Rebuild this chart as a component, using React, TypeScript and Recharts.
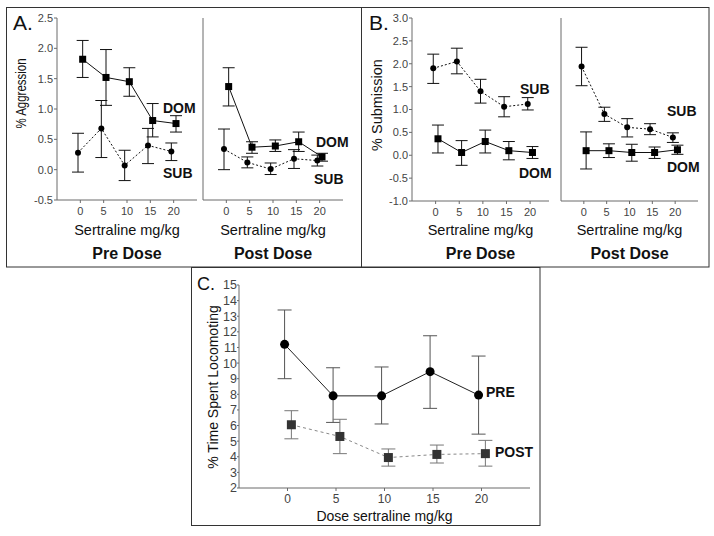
import React from "react";
import { ComposedChart, Scatter, XAxis, YAxis, ErrorBar, Label } from "recharts";

// ---- data ----
const DOSES = [0, 5, 10, 15, 20];
const DOSE_TICKS = [0, 5, 10, 15, 20];

// A. % Aggression: means and [lower, upper] error bounds
const aggPreDom = [1.82, 1.52, 1.45, 0.81, 0.76];
const aggPreDomErr = [[1.52, 2.13], [1.06, 1.98], [1.21, 1.68], [0.54, 1.09], [0.62, 0.89]];
const aggPreSub = [0.28, 0.68, 0.07, 0.4, 0.3];
const aggPreSubErr = [[-0.04, 0.6], [0.2, 1.14], [-0.18, 0.32], [0.1, 0.68], [0.15, 0.44]];
const aggPostDom = [1.37, 0.37, 0.39, 0.46, 0.21];
const aggPostDomErr = [[1.05, 1.68], [0.27, 0.46], [0.3, 0.49], [0.3, 0.62], [0.14, 0.27]];
const aggPostSub = [0.34, 0.12, 0.01, 0.18, 0.15];
const aggPostSubErr = [[0.0, 0.67], [0.03, 0.21], [-0.08, 0.11], [0.02, 0.33], [0.06, 0.24]];

// B. % Submission
const subPreSub = [1.9, 2.05, 1.4, 1.06, 1.12];
const subPreSubErr = [[1.57, 2.21], [1.78, 2.34], [1.14, 1.66], [0.84, 1.28], [0.99, 1.26]];
const subPreDom = [0.36, 0.06, 0.3, 0.1, 0.06];
const subPreDomErr = [[0.05, 0.66], [-0.22, 0.32], [0.05, 0.55], [-0.1, 0.3], [-0.07, 0.19]];
const subPostSub = [1.94, 0.9, 0.61, 0.57, 0.39];
const subPostSubErr = [[1.52, 2.36], [0.74, 1.05], [0.4, 0.8], [0.45, 0.69], [0.28, 0.49]];
const subPostDom = [0.1, 0.1, 0.06, 0.06, 0.12];
const subPostDomErr = [[-0.3, 0.51], [-0.05, 0.25], [-0.13, 0.24], [-0.07, 0.18], [0.02, 0.22]];

// C. % Time spent locomoting
const locoPre = [11.2, 7.9, 7.9, 9.45, 7.95];
const locoPreErr = [[9.0, 13.4], [6.2, 9.7], [6.1, 9.75], [7.1, 11.75], [5.45, 10.45]];
const locoPost = [6.05, 5.3, 3.95, 4.15, 4.2];
const locoPostErr = [[5.15, 6.95], [4.2, 6.4], [3.4, 4.5], [3.6, 4.75], [3.4, 5.05]];

const AGG_TICKS = [-0.5, 0, 0.5, 1, 1.5, 2, 2.5];
const SUBM_TICKS = [-1, -0.5, 0, 0.5, 1, 1.5, 2, 2.5, 3];
const LOCO_TICKS = [2, 3, 4, 5, 6, 7, 8, 9, 10, 11, 12, 13, 14, 15];

// small horizontal offsets so the two groups don't overlap
const SUB_SHIFT = -0.5;
const DOM_SHIFT = 0.5;

type Pt = { x: number; y: number; err: number[] };

const toPoints = (means: number[], bounds: number[][], shift: number): Pt[] =>
  DOSES.map((d, i) => ({
    x: d + shift,
    y: means[i],
    err: [means[i] - bounds[i][0], bounds[i][1] - means[i]],
  }));

const FONT = "'Liberation Sans', Arial, Helvetica, sans-serif";
const AXIS = "#6b6b6b";
const TICK_TXT = "#444";

const YW = 50;
const MT = 6;
const MR = 6;

type Series = {
  data: Pt[];
  kind: "square" | "circle";
  size: number;
  fill: string;
  stroke: string;
  dash?: string;
  errColor: string;
  cap: number;
};

type Title = { text: string; offset: number; size: number; bold?: boolean };

const mkShape = (kind: "square" | "circle", size: number, fill: string) =>
  (p: any) =>
    kind === "square" ? (
      <rect x={p.cx - size / 2} y={p.cy - size / 2} width={size} height={size} fill={fill} />
    ) : (
      <circle cx={p.cx} cy={p.cy} r={size / 2} fill={fill} />
    );

function SubPlot(props: {
  axisX: number;
  plotTop: number;
  plotW: number;
  plotH: number;
  xh: number;
  xDomain: number[];
  yDomain: number[];
  yTicks: number[];
  yFmt: (v: number) => string;
  yLabels: boolean;
  tickFont: number;
  yTickFont?: number;
  xTickMargin: number;
  yTickSize?: number;
  yTickMargin?: number;
  series: Series[];
  titles: Title[];
}) {
  const { axisX, plotTop, plotW, plotH, xh } = props;
  const width = YW + plotW + MR;
  const height = MT + plotH + xh;
  return (
    <div style={{ position: "absolute", left: axisX - YW, top: plotTop - MT }}>
      <ComposedChart width={width} height={height} margin={{ top: MT, right: MR, left: 0, bottom: 0 }}>
        <XAxis
          type="number"
          dataKey="x"
          domain={props.xDomain}
          ticks={DOSE_TICKS}
          interval={0}
          allowDataOverflow
          height={xh}
          stroke={AXIS}
          tickSize={3}
          tickMargin={props.xTickMargin}
          tick={{ fill: TICK_TXT, fontSize: props.tickFont }}
        >
          {props.titles.map((t) => (
            <Label
              key={t.text}
              value={t.text}
              position="insideBottom"
              offset={t.offset}
              fontSize={t.size}
              fontWeight={t.bold ? 700 : 400}
              fill="#111"
            />
          ))}
        </XAxis>
        <YAxis
          type="number"
          dataKey="y"
          domain={props.yDomain}
          ticks={props.yTicks}
          interval={0}
          allowDataOverflow
          width={YW}
          stroke={AXIS}
          tickSize={props.yTickSize ?? 3}
          tickMargin={props.yTickMargin ?? 1}
          tickFormatter={props.yFmt}
          tick={props.yLabels ? { fill: TICK_TXT, fontSize: props.yTickFont ?? props.tickFont } : false}
        />
        {props.series.map((s, i) => (
          <Scatter
            key={i}
            data={s.data}
            isAnimationActive={false}
            shape={mkShape(s.kind, s.size, s.fill)}
            line={{ stroke: s.stroke, strokeWidth: 1, strokeDasharray: s.dash }}
            lineType="joint"
          >
            <ErrorBar dataKey="err" direction="y" width={s.cap} stroke={s.errColor} strokeWidth={1} />
          </Scatter>
        ))}
      </ComposedChart>
    </div>
  );
}

const domSeries = (pts: Pt[]): Series => ({
  data: pts, kind: "square", size: 7, fill: "#000", stroke: "#111", errColor: "#111", cap: 6,
});
const subSeries = (pts: Pt[]): Series => ({
  data: pts, kind: "circle", size: 6, fill: "#000", stroke: "#111", dash: "2 2", errColor: "#111", cap: 6,
});

const fmt1 = (v: number) => v.toFixed(1);
const fmt0 = (v: number) => String(v);

const preTitles = (bottomGap: number): Title[] => [
  { text: "Sertraline mg/kg", offset: bottomGap + 35, size: 14.5 },
  { text: "Pre Dose", offset: bottomGap + 11, size: 16, bold: true },
];
const postTitles = (bottomGap: number): Title[] => [
  { text: "Sertraline mg/kg", offset: bottomGap + 35, size: 14.5 },
  { text: "Post Dose", offset: bottomGap + 11, size: 16, bold: true },
];

const bold = { fontWeight: 700, fontSize: 14, fill: "#111" } as const;

export default function App() {
  return (
    <div
      style={{
        position: "absolute",
        left: 0,
        top: 0,
        width: 714,
        height: 536,
        background: "#fff",
        fontFamily: FONT,
        overflow: "hidden",
      }}
    >
      {/* A. Aggression */}
      <SubPlot
        axisX={57} plotTop={18} plotW={140} plotH={182} xh={70}
        xDomain={[-5, 25]} yDomain={[-0.5, 2.5]} yTicks={AGG_TICKS} yFmt={fmt1} yLabels
        tickFont={11} xTickMargin={4}
        series={[domSeries(toPoints(aggPreDom, aggPreDomErr, DOM_SHIFT)), subSeries(toPoints(aggPreSub, aggPreSubErr, SUB_SHIFT))]}
        titles={preTitles(0)}
      />
      <SubPlot
        axisX={203} plotTop={18} plotW={140} plotH={182} xh={70}
        xDomain={[-5, 25]} yDomain={[-0.5, 2.5]} yTicks={AGG_TICKS} yFmt={fmt1} yLabels={false}
        tickFont={11} xTickMargin={4}
        series={[domSeries(toPoints(aggPostDom, aggPostDomErr, DOM_SHIFT)), subSeries(toPoints(aggPostSub, aggPostSubErr, SUB_SHIFT))]}
        titles={postTitles(0)}
      />
      {/* B. Submission */}
      <SubPlot
        axisX={412} plotTop={18} plotW={137} plotH={183} xh={70}
        xDomain={[-5, 24]} yDomain={[-1, 3]} yTicks={SUBM_TICKS} yFmt={fmt1} yLabels
        tickFont={11} xTickMargin={4}
        series={[domSeries(toPoints(subPreDom, subPreDomErr, DOM_SHIFT)), subSeries(toPoints(subPreSub, subPreSubErr, SUB_SHIFT))]}
        titles={preTitles(1)}
      />
      <SubPlot
        axisX={561} plotTop={18} plotW={137} plotH={183} xh={70}
        xDomain={[-5, 25]} yDomain={[-1, 3]} yTicks={SUBM_TICKS} yFmt={fmt1} yLabels={false}
        tickFont={11} xTickMargin={4}
        series={[domSeries(toPoints(subPostDom, subPostDomErr, DOM_SHIFT)), subSeries(toPoints(subPostSub, subPostSubErr, SUB_SHIFT))]}
        titles={postTitles(1)}
      />
      {/* C. Locomotion */}
      <SubPlot
        axisX={239} plotTop={285} plotW={291} plotH={203} xh={40}
        xDomain={[-5, 25]} yDomain={[2, 15]} yTicks={LOCO_TICKS} yFmt={fmt0} yLabels
        tickFont={12} yTickFont={12.5} xTickMargin={3} yTickSize={2} yTickMargin={0}
        series={[
          { data: toPoints(locoPre, locoPreErr, -0.3), kind: "circle", size: 9, fill: "#000", stroke: "#222", errColor: "#555", cap: 7 },
          { data: toPoints(locoPost, locoPostErr, 0.4), kind: "square", size: 9, fill: "#333", stroke: "#888", dash: "3 3", errColor: "#777", cap: 7 },
        ]}
        titles={[{ text: "Dose sertraline mg/kg", offset: 7, size: 14 }]}
      />

      {/* frames and annotations */}
      <svg
        width={714}
        height={536}
        style={{ position: "absolute", left: 0, top: 0, pointerEvents: "none", fontFamily: FONT }}
      >
        <rect x={6.5} y={7.5} width={702.5} height={259.5} fill="none" stroke="#333" strokeWidth={1} />
        <line x1={361.5} y1={7.5} x2={361.5} y2={267} stroke="#333" strokeWidth={1} />
        <rect x={191.5} y={267.5} width={348.5} height={258} fill="none" stroke="#333" strokeWidth={1} />

        <text x={13} y={30} fontSize={21} fill="#111">A.</text>
        <text x={369} y={30} fontSize={21} fill="#111">B.</text>
        <text x={197} y={290} fontSize={18} fill="#111">C.</text>

        <text
          x={0} y={0} fontSize={14} fill="#111" textAnchor="middle" dominantBaseline="central"
          transform="translate(21 93.5) rotate(-90) scale(0.82 1)"
        >
          % Aggression
        </text>
        <text
          x={377} y={105} fontSize={14.5} fill="#111" textAnchor="middle" dominantBaseline="central"
          transform="rotate(-90 377 105)"
        >
          % Submission
        </text>
        <text
          x={213} y={387} fontSize={14} fill="#111" textAnchor="middle" dominantBaseline="central"
          transform="rotate(-90 213 387)"
        >
          % Time Spent Locomoting
        </text>

        <text x={163} y={108} dominantBaseline="central" {...bold}>DOM</text>
        <text x={163} y={173} dominantBaseline="central" {...bold}>SUB</text>
        <text x={316} y={142} dominantBaseline="central" {...bold}>DOM</text>
        <text x={314} y={179} dominantBaseline="central" {...bold}>SUB</text>
        <text x={520} y={89} dominantBaseline="central" {...bold}>SUB</text>
        <text x={519} y={173} dominantBaseline="central" {...bold}>DOM</text>
        <text x={667} y={111} dominantBaseline="central" {...bold}>SUB</text>
        <text x={667} y={167} dominantBaseline="central" {...bold}>DOM</text>
        <text x={486} y={392} dominantBaseline="central" {...bold}>PRE</text>
        <text x={495} y={452} dominantBaseline="central" {...bold}>POST</text>
      </svg>
    </div>
  );
}
